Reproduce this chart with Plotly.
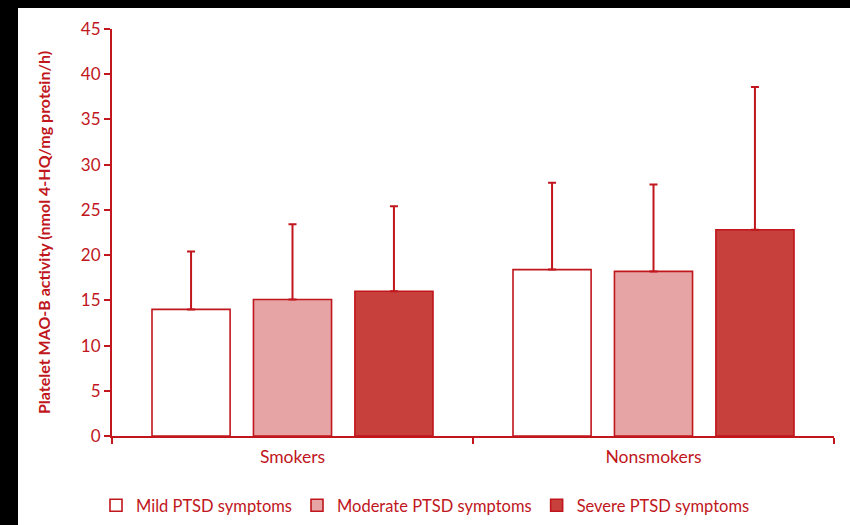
import plotly.graph_objects as go

categories = ["Smokers", "Nonsmokers"]
series_names = ["Mild PTSD symptoms", "Moderate PTSD symptoms", "Severe PTSD symptoms"]
mild_values = [14.0, 18.4]
moderate_values = [15.1, 18.2]
severe_values = [16.0, 22.8]
mild_err = [6.4, 9.6]
moderate_err = [8.3, 9.6]
severe_err = [9.4, 15.8]
y_ticks = [0, 5, 10, 15, 20, 25, 30, 35, 40, 45]

RED = "#c0161c"
fills = ["#ffffff", "#e6a4a4", "#c8403c"]
values = [mild_values, moderate_values, severe_values]
errs = [mild_err, moderate_err, severe_err]

FONT = "Lato"
PW = 850 - 112 - 16
PH = 525 - 29 - 89

fig = go.Figure()
for name, vals, err, fc in zip(series_names, values, errs, fills):
    fig.add_trace(go.Bar(
        x=categories, y=vals, name=name,
        marker=dict(color=fc, line=dict(color=RED, width=1.6)),
        error_y=dict(type="data", array=err, symmetric=False, arrayminus=[0, 0],
                     color=RED, thickness=2, width=4),
    ))

fig.update_layout(
    width=850, height=525,
    margin=dict(l=112, r=16, t=29, b=89, autoexpand=False),
    paper_bgcolor="black",
    plot_bgcolor="white",
    barmode="group",
    bargap=0.157,
    bargroupgap=0.23,
    font=dict(family=FONT, color=RED, size=17),
    showlegend=True,
    legend=dict(orientation="h", x=-16 / PW, xanchor="left",
                y=-(488 - 436) / PH, yanchor="top",
                font=dict(family=FONT, size=16.5, color=RED), bgcolor="rgba(0,0,0,0)",
                traceorder="normal", itemwidth=30),
    shapes=[dict(type="rect", xref="paper", yref="paper",
                 x0=(18 - 112) / PW, x1=(852 - 112) / PW,
                 y0=(436 - 527) / PH, y1=(436 - 8) / PH,
                 fillcolor="white", line=dict(width=0), layer="below")],
)

fig.update_yaxes(
    range=[0, 45], tickvals=y_ticks, showgrid=False, zeroline=False,
    showline=True, linecolor=RED, linewidth=2,
    ticks="outside", ticklen=6, tickcolor=RED, tickwidth=2,
    tickfont=dict(family=FONT, size=17, color=RED),
    title=dict(text="<b>Platelet MAO-B activity (nmol 4-HQ/mg protein/h)</b>",
               font=dict(family=FONT, size=16, color=RED), standoff=26),
)
fig.update_xaxes(
    showgrid=False, zeroline=False, showline=True, linecolor=RED, linewidth=2,
    ticks="outside", tickson="boundaries", ticklen=6, tickcolor=RED, tickwidth=2,
    tickfont=dict(family=FONT, size=17.5, color=RED), ticklabelstandoff=4,
)

fig.write_html("out.html", config={"displayModeBar": False},
               post_script="document.body.style.margin='0';document.body.style.background='black';")
